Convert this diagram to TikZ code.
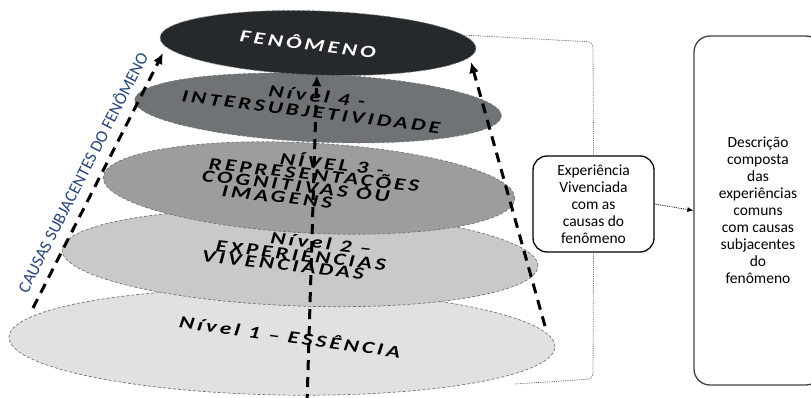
\documentclass[tikz,border=0pt]{standalone}
\usepackage{fontspec}
\setmainfont{Carlito}
\newfontfamily\nivelfont{Carlito Bold Italic}[LetterSpace=14]
\usepackage{tikz}
\usetikzlibrary{shapes.geometric}
\usetikzlibrary{arrows.meta}

\definecolor{nivelA}{HTML}{E1E1E1}
\definecolor{nivelB}{HTML}{C9C9C9}
\definecolor{nivelC}{HTML}{9B9D9E}
\definecolor{nivelD}{HTML}{6F7375}
\definecolor{nivelE}{HTML}{25292B}
\definecolor{causas}{HTML}{24457A}

\begin{document}
\begin{tikzpicture}[x=1pt, y=-1pt,
	nivel/.style={ellipse, draw=black!55, densely dashed, line width=0.7pt, inner sep=0pt},
	rotulo/.style={font=\nivelfont\fontsize{23}{23}\selectfont, inner sep=0pt, rotate=-7, yscale=0.75},
	seta/.style={line width=3pt, dash pattern=on 10pt off 7pt, -{Latex[length=11pt,width=10pt]}},
	caixa/.style={draw, rounded corners=14pt, line width=1.3pt, align=center, font=\fontsize{15.5}{17}\selectfont}]
	\useasboundingbox (0,0) rectangle (811,398);
	
	% os cinco niveis, de baixo para cima
	\node[nivel, fill=nivelA, minimum width=546pt, minimum height=106pt, rotate=-1] (e1) at (282,342) {};
	\node[nivel, fill=nivelB, minimum width=476pt, minimum height=96pt, rotate=-2] (e2) at (300,258) {};
	\node[nivel, fill=nivelC, minimum width=412pt, minimum height=90pt, rotate=-3] (e3) at (309,188) {};
	\node[nivel, fill=nivelD, minimum width=367pt, minimum height=68pt, rotate=-2.5] (e4) at (318,108) {};
	\node[nivel, fill=nivelE, minimum width=316pt, minimum height=64pt, rotate=-2] (e5) at (318,43) {};
	
	\node[rotulo, rotate=-1] (t1) at (290,336) {Nível 1 – ESSÊNCIA};
	\node[rotulo, rotate=1] (t2a) at (321,243) {Nível 2 –};
	\node[rotulo, rotate=1] (t2b) at (301,254) {EXPERIÊNCIAS};
	\node[rotulo, rotate=1] (t2c) at (283,265) {VIVENCIADAS};
	\node[rotulo, rotate=1] (t3a) at (332,163) {NÍVEL 3 -};
	\node[rotulo, rotate=1] (t3b) at (314,175) {REPRESENTAÇÕES};
	\node[rotulo, rotate=1] (t3c) at (296,186) {COGNITIVAS OU};
	\node[rotulo, rotate=1] (t3d) at (277,197) {IMAGENS};
	\node[rotulo] (t4a) at (317,96) {Nível 4 -};
	\node[rotulo] (t4b) at (311,112) {INTERSUBJETIVIDADE};
	\node[rotulo, white] (t5) at (308,43) {FENÔMENO};
	
	% setas tracejadas
	\coordinate (baseC) at (307,404);
	\coordinate (baseE) at (33,308);
	\coordinate (topoE) at (163,53);
	\coordinate (baseD) at (545,326);
	\coordinate (topoD) at (471,62);
	\draw[seta] (baseC) -- (e5.south);
	\draw[seta] (baseE) -- (topoE);
	\draw[seta] (baseD) -- (topoD);
	
	\node[causas, rotate=63, font=\fontsize{17}{17}\selectfont] (lado) at (82,172) {CAUSAS SUBJACENTES DO FENÔMENO};
	
	\node[caixa, minimum width=121pt, minimum height=96pt, inner sep=2pt] (vivida) at (593.5,204) {Experiência\\Vivenciada\\com as\\causas do\\fenômeno};
	\node[caixa, draw=black!75, rounded corners=16pt, minimum width=128pt, minimum height=349pt] (descr) at (758,210.5) {Descrição\\composta\\das\\experiências\\comuns\\com causas\\subjacentes\\do\\fenômeno};
	
	% colchete pontilhado
	\coordinate (c1) at (462,35);
	\coordinate (c2) at (593,42);
	\coordinate (c3) at (593,379);
	\coordinate (c4) at (515,384);
	\draw[black!60, densely dotted, line width=0.8pt, rounded corners=6pt] (c1) -- (c2) -- (vivida.north);
	\draw[black!60, densely dotted, line width=0.8pt, rounded corners=6pt] (vivida.south) -- (c3) -- (c4);
	\draw[densely dotted, line width=0.8pt, -{Latex[length=6pt,width=5pt]}] (vivida.east) -- (descr.west);
\end{tikzpicture}
\end{document}
